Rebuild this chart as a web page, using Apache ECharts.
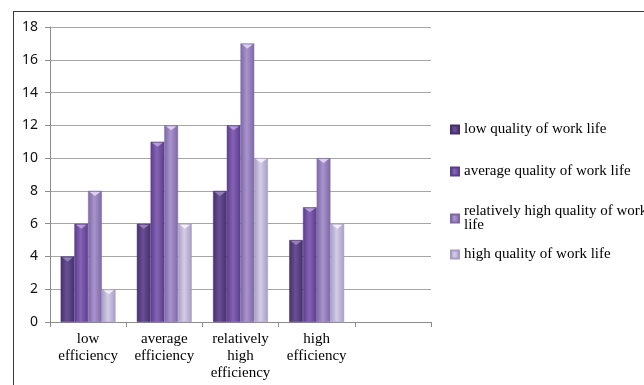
<!DOCTYPE html>
<html>
<head>
<meta charset="utf-8">
<style>
  html, body { margin: 0; padding: 0; background: #fff; }
  #chart { width: 644px; height: 385px; }
  #frame { position: absolute; left: 13px; top: 11px; width: 700px; height: 400px;
           border-left: 1.5px solid #3a3a3a; border-top: 1.5px solid #3a3a3a; pointer-events: none; }
</style>
<script src="https://cdn.jsdelivr.net/npm/echarts@6/dist/echarts.min.js"></script>
</head>
<body>
<div id="chart"></div>
<div id="frame"></div>
<script>
// Efficiency groups (the fifth slot is left empty on the axis)
const categories = ['low\nefficiency', 'average\nefficiency', 'relatively\nhigh\nefficiency', 'high\nefficiency', ''];

const seriesNames = [
  'low quality of work life',
  'average quality of work life',
  'relatively high quality of work life',
  'high quality of work life'
];

const lowQuality      = [4, 6, 8, 5];
const averageQuality  = [6, 11, 12, 7];
const relHighQuality  = [8, 12, 17, 10];
const highQuality     = [2, 6, 10, 6];

const yTicks = { min: 0, max: 18, interval: 2 };

// edge / centre shades for the shaded column look, plus the cap highlight
const shades = [
  ['#45306a', '#6a4f95', '#9b86c0'],
  ['#5b3d8a', '#8563b5', '#b9a3dc'],
  ['#7d67a6', '#a994cc', '#e2d8f2'],
  ['#a79cc4', '#d4cce6', '#f6f2fb']
];

const BAR_CATEGORY_GAP = 0.28;

function columnFill(pair) {
  return new echarts.graphic.LinearGradient(0, 0, 1, 0, [
    { offset: 0, color: pair[0] },
    { offset: 0.45, color: pair[1] },
    { offset: 1, color: pair[0] }
  ]);
}

const values = [lowQuality, averageQuality, relHighQuality, highQuality];

const series = values.map((vals, i) => ({
  name: seriesNames[i],
  type: 'bar',
  data: vals,
  barGap: '0%',
  barCategoryGap: (BAR_CATEGORY_GAP * 100) + '%',
  itemStyle: { color: columnFill(shades[i]), borderColor: shades[i][0], borderWidth: 0.5 },
  emphasis: { disabled: true },
  z: 2
}));

// small bevel highlight on each column top, placed through the axis scales
const capData = [];
values.forEach((vals, s) => vals.forEach((v, c) => capData.push([c, v, s])));
series.push({
  type: 'custom',
  data: capData,
  z: 3,
  silent: true,
  renderItem: function (params, api) {
    const c = api.value(0), v = api.value(1), s = api.value(2);
    const top = api.coord([c, v]);
    const band = api.size([1, 0])[0];
    const groupW = band * (1 - BAR_CATEGORY_GAP);
    const barW = groupW / 4;
    const x0 = top[0] - groupW / 2 + s * barW;
    const y0 = top[1];
    return {
      type: 'polygon',
      shape: { points: [[x0 + 1.5, y0 + 1], [x0 + barW - 1.5, y0 + 1], [x0 + barW / 2, y0 + 5]] },
      style: { fill: shades[s][2], opacity: 0.9 }
    };
  }
});

const legendTops = [122, 164, 204, 247];
const legends = seriesNames.map((n, i) => ({
  data: [n],
  left: 450,
  top: legendTops[i],
  orient: 'vertical',
  icon: 'rect',
  itemWidth: 8,
  itemHeight: 8,
  itemGap: 4,
  padding: 0,
  formatter: n === 'relatively high quality of work life' ? 'relatively high quality of work\nlife' : '{name}',
  textStyle: { fontFamily: 'Liberation Serif', fontSize: 15, color: '#000', lineHeight: 14 },
  selectedMode: false
}));

const chart = echarts.init(document.getElementById('chart'), null, { renderer: 'canvas' });
chart.setOption({
  animation: false,
  backgroundColor: '#fff',
  color: shades.map(s => s[1]),
  grid: { left: 50, right: 213, top: 27, bottom: 63 },
  legend: legends,
  xAxis: {
    type: 'category',
    data: categories,
    axisLine: { lineStyle: { color: '#8c8c8c', width: 1 } },
    axisTick: { show: true, alignWithLabel: false, length: 5, lineStyle: { color: '#8c8c8c' } },
    axisLabel: { fontFamily: 'Liberation Serif', fontSize: 15, color: '#000', lineHeight: 17, margin: 9, interval: 0 }
  },
  yAxis: {
    type: 'value',
    min: yTicks.min,
    max: yTicks.max,
    interval: yTicks.interval,
    axisLine: { show: true, lineStyle: { color: '#8c8c8c', width: 1 } },
    axisTick: { show: true, length: 5, lineStyle: { color: '#8c8c8c' } },
    axisLabel: { fontFamily: 'Noto Sans', fontSize: 14, color: '#111', margin: 12 },
    splitLine: { lineStyle: { color: '#a6a6a6', width: 1 } }
  },
  series: series
});
</script>
</body>
</html>
